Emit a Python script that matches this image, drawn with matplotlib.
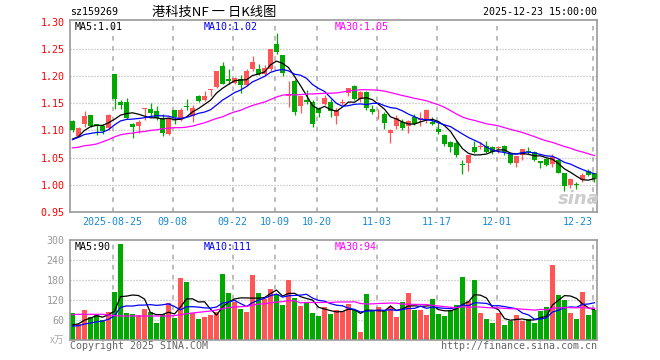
import numpy as np
import pandas as pd
import matplotlib
matplotlib.use("Agg")
import matplotlib.pyplot as plt
from matplotlib.transforms import blended_transform_factory

# 数据 (读自参考图)
code = "sz159269"
title = "港科技NF 一 日K线图"
stamp = "2025-12-23 15:00:00"

holidays = ["2025-10-01", "2025-10-02", "2025-10-03",
            "2025-10-06", "2025-10-07", "2025-10-08"]
tick_dates = ["2025-08-25", "2025-09-08", "2025-09-22", "2025-10-09", "2025-10-20",
              "2025-11-03", "2025-11-17", "2025-12-01", "2025-12-23"]
tick_labels = ["2025-08-25", "09-08", "09-22", "10-09", "10-20",
               "11-03", "11-17", "12-01", "12-23"]

opens = [1.117, 1.090, 1.111, 1.128, 1.111, 1.109, 1.104, 1.203, 1.152, 1.153,
         1.111, 1.108, 1.139, 1.140, 1.136, 1.122, 1.094, 1.137, 1.120, 1.145,
         1.126, 1.163, 1.155, 1.174, 1.180, 1.218, 1.195, 1.188, 1.195, 1.184,
         1.212, 1.212, 1.203, 1.213, 1.258, 1.239, 1.163, 1.190, 1.144, 1.155,
         1.152, 1.140, 1.149, 1.152, 1.126, 1.150, 1.168, 1.181, 1.157, 1.171,
         1.140, 1.135, 1.131, 1.095, 1.109, 1.116, 1.109, 1.124, 1.120, 1.119,
         1.115, 1.103, 1.091, 1.078, 1.076, 1.039, 1.041, 1.070, 1.070, 1.071,
         1.069, 1.068, 1.071, 1.057, 1.041, 1.054, 1.062, 1.060, 1.043, 1.047,
         1.039, 1.046, 1.021, 0.999, 1.001, 1.008, 1.026, 1.021]
highs = [1.120, 1.106, 1.135, 1.128, 1.112, 1.111, 1.130, 1.203, 1.156, 1.160,
         1.114, 1.120, 1.142, 1.151, 1.144, 1.131, 1.124, 1.137, 1.141, 1.157,
         1.146, 1.166, 1.172, 1.177, 1.210, 1.226, 1.212, 1.199, 1.201, 1.212,
         1.236, 1.223, 1.221, 1.250, 1.280, 1.239, 1.190, 1.195, 1.164, 1.174,
         1.156, 1.143, 1.166, 1.158, 1.141, 1.158, 1.178, 1.184, 1.172, 1.172,
         1.147, 1.140, 1.134, 1.103, 1.129, 1.121, 1.119, 1.130, 1.134, 1.140,
         1.124, 1.115, 1.094, 1.081, 1.080, 1.046, 1.054, 1.081, 1.078, 1.080,
         1.071, 1.072, 1.073, 1.060, 1.053, 1.065, 1.070, 1.063, 1.043, 1.049,
         1.056, 1.047, 1.021, 1.013, 1.005, 1.021, 1.029, 1.022]
lows = [1.098, 1.088, 1.107, 1.107, 1.092, 1.094, 1.100, 1.140, 1.140, 1.121,
        1.086, 1.095, 1.120, 1.126, 1.119, 1.089, 1.091, 1.111, 1.118, 1.137,
        1.115, 1.152, 1.154, 1.163, 1.178, 1.185, 1.185, 1.185, 1.169, 1.181,
        1.210, 1.201, 1.201, 1.210, 1.241, 1.200, 1.143, 1.129, 1.132, 1.149,
        1.107, 1.125, 1.146, 1.125, 1.111, 1.146, 1.164, 1.156, 1.152, 1.138,
        1.131, 1.121, 1.102, 1.076, 1.103, 1.100, 1.095, 1.110, 1.108, 1.113,
        1.110, 1.094, 1.071, 1.061, 1.051, 1.019, 1.025, 1.058, 1.066, 1.058,
        1.057, 1.059, 1.054, 1.039, 1.033, 1.046, 1.057, 1.044, 1.030, 1.035,
        1.032, 1.021, 0.989, 0.995, 0.992, 1.005, 1.016, 1.006]
closes = [1.100, 1.104, 1.126, 1.109, 1.108, 1.099, 1.128, 1.158, 1.147, 1.123,
          1.106, 1.115, 1.140, 1.132, 1.123, 1.095, 1.123, 1.125, 1.137, 1.143,
          1.142, 1.154, 1.163, 1.175, 1.209, 1.186, 1.190, 1.196, 1.183, 1.210,
          1.226, 1.203, 1.215, 1.249, 1.244, 1.205, 1.165, 1.134, 1.164, 1.153,
          1.112, 1.132, 1.160, 1.135, 1.137, 1.151, 1.178, 1.158, 1.171, 1.142,
          1.133, 1.136, 1.113, 1.101, 1.122, 1.105, 1.118, 1.112, 1.122, 1.138,
          1.112, 1.097, 1.075, 1.069, 1.054, 1.037, 1.054, 1.060, 1.071, 1.061,
          1.060, 1.069, 1.060, 1.041, 1.053, 1.065, 1.061, 1.046, 1.041, 1.036,
          1.051, 1.021, 0.997, 1.010, 1.000, 1.018, 1.018, 1.011]
volumes = [82, 48, 90, 70, 75, 60, 83, 145, 288, 82,
           77, 75, 93, 83, 52, 78, 111, 66, 187, 174,
           80, 63, 70, 76, 85, 198, 141, 115, 93, 84,
           195, 141, 123, 153, 137, 105, 180, 126, 102, 110,
           81, 72, 100, 78, 90, 87, 108, 90, 24, 138,
           87, 99, 87, 99, 69, 114, 141, 90, 90, 75,
           123, 78, 72, 90, 105, 189, 117, 180, 81, 63,
           51, 81, 45, 57, 75, 57, 63, 51, 87, 99,
           225, 135, 120, 81, 63, 144, 75, 90]

# 窗口前的收盘价/成交量 (估计, 用于均线起点)
prior_close = [1.060, 1.075, 1.090, 1.090, 1.095, 1.080, 1.070, 1.075, 1.095]
prior_volume = [40, 38, 42, 36, 39, 30, 35, 40, 38]
# MA30 前 29 个点
ma30_head = [1.068, 1.069, 1.072, 1.073, 1.075, 1.079, 1.083, 1.088, 1.092, 1.094,
             1.095, 1.097, 1.098, 1.100, 1.101, 1.103, 1.104, 1.105, 1.105, 1.106,
             1.108, 1.111, 1.114, 1.118, 1.122, 1.125, 1.130, 1.134, 1.137]
vol_ma30_head = [76, 77, 77, 77, 77, 77, 75, 73, 72, 72,
                 72, 72, 72, 72, 72, 72, 72, 73, 76, 79,
                 81, 83, 85, 87, 90, 94, 97, 99, 100]

ma_labels = ["MA5:1.01", "MA10:1.02", "MA30:1.05"]
vol_ma_labels = ["MA5:90", "MA10:111", "MA30:94"]

RED = "#ff5555"
GREEN = "#00a800"
GRID = "#aaaaaa"
FRAME = "#999999"
MA_COLORS = ["#000000", "#0000ff", "#ff00ff"]
MONO = "DejaVu Sans Mono"

W, H = 660, 360


def fx(px):
    return px / W


def fy(py):
    return 1 - py / H


def moving(values, prior, n):
    s = pd.Series(list(prior) + list(values), dtype=float)
    return s.rolling(n).mean().to_numpy()[len(prior):]


days = pd.bdate_range("2025-08-14", "2025-12-23", freq="C", holidays=holidays)
n = len(days)
x = np.arange(n)
o = np.array(opens)
c = np.array(closes)
hi = np.array(highs)
lo = np.array(lows)
vol = np.array(volumes, dtype=float)
colors = np.where(c >= o, RED, GREEN)

ma5 = moving(c, prior_close, 5)
ma10 = moving(c, prior_close, 10)
ma30 = moving(c, [], 30)
ma30[:len(ma30_head)] = ma30_head
vma5 = moving(vol, prior_volume, 5)
vma10 = moving(vol, prior_volume, 10)
vma30 = moving(vol, [], 30)
vma30[:len(vol_ma30_head)] = vol_ma30_head

tick_idx = [days.get_loc(pd.Timestamp(d)) for d in tick_dates]

fig = plt.figure(figsize=(W / 100, H / 100), dpi=100)
ax = fig.add_axes([fx(70), fy(212), 527 / W, 192 / H])
axv = fig.add_axes([fx(70), fy(340), 527 / W, 100 / H])

bar_w = 5 / 6
for a in (ax, axv):
    a.set_xlim(-0.4167, n - 1 + 0.4167)
    for s in a.spines.values():
        s.set_color(FRAME)
        s.set_linewidth(1.2)
    a.set_xticks([])
    a.tick_params(axis="y", length=0, pad=4)
    for t in tick_idx:
        a.axvline(t - 0.33, color=GRID, lw=1.1, dashes=(3.0, 3.6), zorder=0)

# K线
ax.set_ylim(0.95, 1.303)
price_ticks = [0.95, 1.00, 1.05, 1.10, 1.15, 1.20, 1.25, 1.30]
ax.set_yticks(price_ticks)
ax.set_yticklabels([f"{v:.2f}" for v in price_ticks], color="#ff0000",
                   fontsize=7.2, family=MONO)
for v in price_ticks[1:-1]:
    ax.axhline(v, color=GRID, lw=0.9, dashes=(0.8, 1.6), zorder=0)

ax.vlines(x, lo, hi, colors=colors, lw=0.9, zorder=2)
body = np.maximum(np.abs(c - o), 0.0015)
ax.bar(x, body, bottom=np.minimum(o, c), width=bar_w, color=colors,
       linewidth=0, zorder=3)
for line, col in zip([ma5, ma10, ma30], MA_COLORS):
    ax.plot(x, line, color=col, lw=0.9, zorder=4)

# 成交量
axv.set_ylim(0, 300)
vol_ticks = [60, 120, 180, 240, 300]
axv.set_yticks(vol_ticks)
axv.set_yticklabels([str(v) for v in vol_ticks], color="#999999",
                    fontsize=7.2, family=MONO)
for v in vol_ticks[:-1]:
    axv.axhline(v, color=GRID, lw=0.9, dashes=(0.8, 1.6), zorder=0)
axv.bar(x, vol, width=bar_w, color=colors, linewidth=0, zorder=2)
for line, col in zip([vma5, vma10, vma30], MA_COLORS):
    axv.plot(x, line, color=col, lw=0.9, zorder=4)

# 日期标签
trans = blended_transform_factory(ax.transData, fig.transFigure)
for k, (t, lab) in enumerate(zip(tick_idx, tick_labels)):
    last = k == len(tick_idx) - 1
    ax.text(t - 0.33, fy(222), lab, transform=trans, ha="right" if last else "center",
            va="center", color="#1a88d4", fontsize=7.2, family=MONO)

# 文字
fig.text(fx(70), fy(12), code, ha="left", va="center", fontsize=7.2, family=MONO)
fig.text(fx(214), fy(12), title, ha="center", va="center", fontsize=9.5,
         family=["Noto Sans CJK SC", "DejaVu Sans"])
fig.text(fx(597), fy(12), stamp, ha="right", va="center", fontsize=7.2, family=MONO)

for lab, col, px in zip(ma_labels, MA_COLORS, [75, 204, 335]):
    fig.text(fx(px), fy(26.5), lab, ha="left", va="center", color=col,
             fontsize=7.2, family=MONO)
for lab, col, px in zip(vol_ma_labels, MA_COLORS, [75, 204, 335]):
    fig.text(fx(px), fy(247), lab, ha="left", va="center", color=col,
             fontsize=7.2, family=MONO)

fig.text(fx(64), fy(340), "x万", ha="right", va="center", color="#aaaaaa",
         fontsize=7, family=["Noto Sans CJK SC", "DejaVu Sans"])
fig.text(fx(70), fy(346), "Copyright 2025 SINA.COM", ha="left", va="center",
         color="#666666", fontsize=7.2, family=MONO)
fig.text(fx(597), fy(346), "http://finance.sina.com.cn", ha="right", va="center",
         color="#666666", fontsize=7.2, family=MONO)
fig.text(fx(579), fy(199), "sina", ha="center", va="center", color="#cccccc",
         fontsize=13, fontstyle="italic", fontweight="bold", family="DejaVu Sans")

fig.savefig("out.png", dpi=100)
